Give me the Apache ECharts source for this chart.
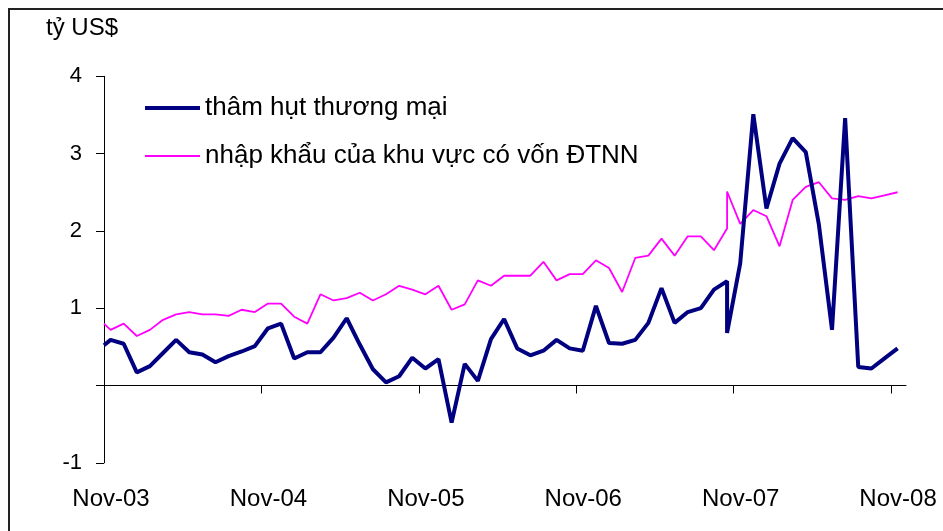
<!DOCTYPE html>
<html>
<head>
<meta charset="utf-8">
<script src="https://cdn.jsdelivr.net/npm/echarts@6/dist/echarts.min.js"></script>
<style>
  html, body { margin: 0; padding: 0; background: #fff; }
  #chart { width: 943px; height: 531px; }
</style>
</head>
<body>
<div id="chart"></div>
<script>
// vị trí theo tháng, tính từ Nov-03 (điểm giữa tháng = .5)
const monthPos = [0, 0.5, 1.5, 2.5, 3.5, 4.5, 5.5, 6.5, 7.5, 8.5, 9.5, 10.5, 11.5,
  12.5, 13.5, 14.5, 15.5, 16.5, 17.5, 18.5, 19.5, 20.5, 21.5, 22.5, 23.5,
  24.5, 25.5, 26.5, 27.5, 28.5, 29.5, 30.5, 31.5, 32.5, 33.5, 34.5, 35.5,
  36.5, 37.5, 38.5, 39.5, 40.5, 41.5, 42.5, 43.5, 44.5, 45.5, 46.5, 47.5, 47.5,
  48.5, 49.5, 50.5, 51.5, 52.5, 53.5, 54.5, 55.5, 56.5, 57.5, 58.5, 59.5, 60.5]

// thâm hụt thương mại (tỷ US$)
const tradeDeficit = [0.52, 0.59, 0.54, 0.17, 0.25, 0.42, 0.59, 0.43, 0.40, 0.30, 0.38, 0.44, 0.51,
  0.74, 0.80, 0.35, 0.43, 0.43, 0.62, 0.87, 0.53, 0.21, 0.04, 0.12, 0.36,
  0.22, 0.34, -0.48, 0.28, 0.06, 0.60, 0.86, 0.48, 0.39, 0.45, 0.59, 0.48,
  0.45, 1.03, 0.55, 0.54, 0.59, 0.81, 1.26, 0.81, 0.95, 1.00, 1.24, 1.35, 0.68,
  1.58, 3.51, 2.29, 2.87, 3.20, 3.02, 2.08, 0.72, 3.46, 0.24, 0.22, 0.35, 0.48]

// nhập khẩu của khu vực có vốn ĐTNN (tỷ US$)
const fdiImports = [0.80, 0.72, 0.80, 0.64, 0.72, 0.85, 0.92, 0.95, 0.92, 0.92, 0.90, 0.98, 0.95,
  1.06, 1.06, 0.89, 0.80, 1.18, 1.10, 1.13, 1.20, 1.10, 1.18, 1.29, 1.24,
  1.18, 1.29, 0.98, 1.05, 1.36, 1.29, 1.42, 1.42, 1.42, 1.60, 1.36, 1.44,
  1.44, 1.62, 1.52, 1.21, 1.65, 1.68, 1.90, 1.68, 1.93, 1.93, 1.75, 2.03, 2.51,
  2.09, 2.27, 2.19, 1.80, 2.40, 2.57, 2.63, 2.42, 2.40, 2.45, 2.42, 2.46, 2.50]

const tickPos = [0, 12, 24, 36, 48, 60]
const tickLabels = ['Nov-03', 'Nov-04', 'Nov-05', 'Nov-06', 'Nov-07', 'Nov-08']

const names = ['thâm hụt thương mại', 'nhập khẩu của khu vực có vốn ĐTNN']

const font = "'Liberation Sans', Arial, sans-serif"

const chart = echarts.init(document.getElementById('chart'))

const legendBase = {
  orient: 'vertical',
  left: 145,
  padding: 0,
  itemWidth: 55,
  icon: 'rect',
  textStyle: { fontFamily: font, fontSize: 26, lineHeight: 30, color: '#000' }
}

chart.setOption({
  animation: false,
  backgroundColor: '#fff',
  textStyle: { fontFamily: font, color: '#000' },
  title: {
    text: 'tỷ US$',
    left: 46,
    top: 16,
    padding: 0,
    textStyle: { fontFamily: font, fontSize: 24, fontWeight: 'normal', color: '#000' }
  },
  graphic: [
    {
      type: 'rect',
      shape: { x: 9, y: 9, width: 1000, height: 600 },
      style: { fill: 'none', stroke: '#222', lineWidth: 2 },
      silent: true
    }
  ],
  legend: [
    Object.assign({}, legendBase, { top: 93, itemHeight: 4, data: [names[0]] }),
    Object.assign({}, legendBase, { top: 141, itemHeight: 2, data: [names[1]] })
  ],
  grid: {
    left: 104,
    right: 37,
    top: 76.3,
    bottom: 68.2,
    outerBoundsMode: 'none'
  },
  xAxis: {
    type: 'value',
    min: 0,
    max: 61.14,
    splitLine: { show: false },
    axisLine: { onZero: true, lineStyle: { color: '#000', width: 1 } },
    axisTick: {
      length: 8,
      customValues: tickPos,
      lineStyle: { color: '#000' }
    },
    axisLabel: {
      customValues: tickPos,
      margin: 25,
      padding: [0, 0, 0, 14],
      fontFamily: font,
      fontSize: 24,
      color: '#000',
      formatter: v => tickLabels[Math.round(v / 12)] || ''
    }
  },
  yAxis: {
    type: 'value',
    min: -1,
    max: 4,
    interval: 1,
    splitLine: { show: false },
    axisLine: { show: true, lineStyle: { color: '#000', width: 1 } },
    axisTick: { show: true, length: 8, lineStyle: { color: '#000' } },
    axisLabel: {
      margin: 22,
      fontFamily: font,
      fontSize: 22,
      color: '#000',
      formatter: v => (v === 0 ? '' : String(v))
    }
  },
  series: [
    {
      name: names[0],
      type: 'line',
      z: 3,
      symbol: 'none',
      showSymbol: false,
      data: monthPos.map((x, i) => [x, tradeDeficit[i]]),
      itemStyle: { color: '#000080' },
      lineStyle: { color: '#000080', width: 4 }
    },
    {
      name: names[1],
      type: 'line',
      z: 2,
      symbol: 'none',
      showSymbol: false,
      data: monthPos.map((x, i) => [x, fdiImports[i]]),
      itemStyle: { color: '#FF00FF' },
      lineStyle: { color: '#FF00FF', width: 1.8 }
    }
  ]
})
</script>
</body>
</html>
